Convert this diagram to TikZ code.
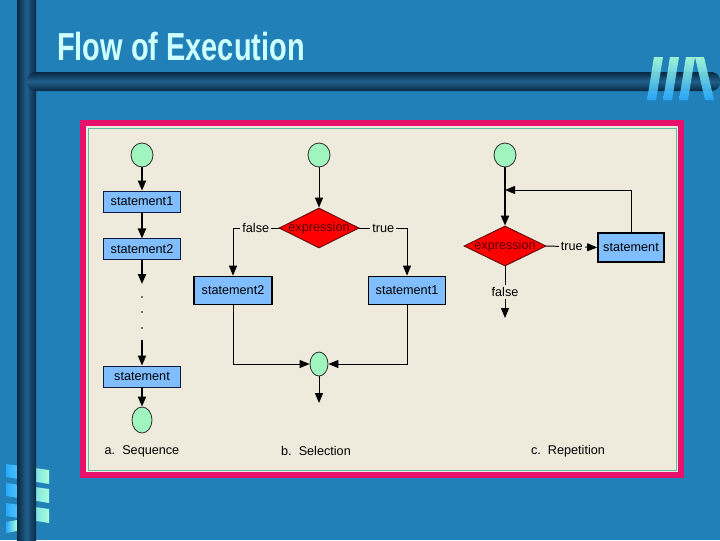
\documentclass[tikz,border=0pt]{standalone}
\usepackage{fontspec}
\setmainfont{Liberation Sans}
\usetikzlibrary{positioning,arrows.meta,shapes.geometric}
\definecolor{slideblue}{RGB}{34,128,184}
\definecolor{bardark}{RGB}{8,40,66}
\definecolor{barmid}{RGB}{32,96,140}
\definecolor{framepink}{RGB}{232,18,108}
\definecolor{paper}{RGB}{238,235,220}
\definecolor{rimgreen}{RGB}{100,185,165}
\definecolor{boxblue}{RGB}{128,190,255}
\definecolor{boxline}{RGB}{12,28,70}
\definecolor{mint}{RGB}{160,245,190}
\definecolor{darkred}{RGB}{85,0,0}
\definecolor{titlecyan}{RGB}{205,255,255}
\definecolor{logocyan}{RGB}{40,170,255}
\definecolor{logomint}{RGB}{170,255,215}

\begin{document}
\begin{tikzpicture}[x=0.025cm, y=0.025cm,
		stmt/.style={draw=boxline, fill=boxblue, line width=0.6pt, minimum width=1.925cm, minimum height=0.525cm, inner sep=1pt, font=\fontsize{9}{10}\selectfont},
		stmtbold/.style={stmt, draw=black, line width=1.2pt},
		terminal/.style={ellipse, draw=black!80, fill=mint, line width=0.6pt, inner sep=0pt, minimum width=0.55cm, minimum height=0.6cm},
		decision/.style={diamond, draw=darkred, fill=red, line width=0.6pt, inner sep=0pt, text=darkred, font=\fontsize{9}{10}\selectfont},
		lbl/.style={fill=paper, inner sep=1.5pt, font=\fontsize{9}{10}\selectfont},
		caption/.style={font=\fontsize{9}{10}\selectfont},
		flow/.style={-{Triangle[length=2.5mm, width=2mm]}, line width=1.4pt},
		thinflow/.style={-{Triangle[length=2.5mm, width=2mm]}, line width=0.7pt}
	]
	\useasboundingbox (0,0) rectangle (720,-540);

	% Slide background
	\fill[slideblue] (0,0) rectangle (720,-540);
	\foreach \y in {464,483,503} {
		\shade[left color=logocyan, right color=logomint]
			(6,-\y) -- (49,-\y-6) -- (49,-\y-20) -- (6,-\y-13) -- cycle;
	}
	\shade[left color=logocyan, right color=logomint] (6,-522) -- (17,-520) -- (17,-531) -- (6,-533) -- cycle;
	\shade[left color=bardark, right color=bardark, middle color=barmid] (17,0) rectangle (36,-540);
	\shade[top color=bardark, bottom color=bardark, middle color=barmid, rounded corners=6pt] (27,-72) rectangle (720,-91);
	\foreach \x in {647,663,679} {
		\shade[bottom color=logocyan, top color=logomint, opacity=0.9]
			(\x,-100) -- (\x+9,-100) -- (\x+16,-57) -- (\x+7,-57) -- cycle;
	}
	\shade[bottom color=logocyan, top color=logomint, opacity=0.9] (695,-57) -- (704,-57) -- (714,-100) -- (705,-100) -- cycle;
	\node[anchor=base west, text=titlecyan, font=\bfseries\fontsize{27.8}{30}\selectfont, xscale=0.74, inner sep=0pt] (title) at (57,-60) {Flow of Execution};

	% Frame
	\fill[framepink] (80,-120) rectangle (684,-478);
	\fill[paper] (86,-126) rectangle (678,-472);
	\draw[rimgreen, line width=0.5pt] (88,-128) rectangle (676,-470);

	% a. Sequence
	\node[terminal] (seqstart) at (142,-155) {};
	\node[stmt, below=0.58cm of seqstart] (seqfirst) {statement1};
	\node[stmt, below=0.65cm of seqfirst] (seqsecond) {statement2};
	\coordinate (seqgap) at (142,-284);
	\foreach \y in {297,312,328} \fill (142,-\y) circle (0.6pt);
	\coordinate (seqresume) at (142,-340);
	\node[stmt] (seqlast) at (142,-376.5) {statement};
	\node[terminal, minimum width=0.5cm, minimum height=0.65cm] (seqend) at (142,-420) {};
	\draw[flow] (seqstart) -- (seqfirst);
	\draw[flow] (seqfirst) -- (seqsecond);
	\draw[flow] (seqsecond) -- (seqgap);
	\draw[flow] (seqresume) -- (seqlast);
	\draw[flow] (seqlast) -- (seqend);
	\node[caption] (seqcap) at (142,-451) {a.\ \ Sequence};

	% b. Selection
	\node[terminal] (selstart) at (319,-155) {};
	\node[decision, minimum width=2cm, minimum height=1cm] (selq) at (319,-228) {\makebox[0pt]{expression}};
	\node[stmtbold, minimum width=1.95cm, minimum height=0.7cm] (selfalse) at (233,-290.5) {statement2};
	\node[stmtbold, minimum width=1.925cm, minimum height=0.7cm] (seltrue) at (407,-290.5) {statement1};
	\node[terminal, minimum width=0.45cm] (seljoin) at (319,-364) {};
	\coordinate (selout) at (319,-403);
	\draw[thinflow] (selstart) -- (selq);
	\draw[thinflow] (selq.west) -- node[lbl] {false} (selq.west -| selfalse.north) -- (selfalse.north);
	\draw[thinflow] (selq.east) -- node[lbl] {true} (selq.east -| seltrue.north) -- (seltrue.north);
	\draw[thinflow] (selfalse.south) |- (seljoin.west);
	\draw[thinflow] (seltrue.south) |- (seljoin.east);
	\draw[thinflow] (seljoin) -- (selout);
	\node[caption] (selcap) at (316,-451) {b.\ \ Selection};

	% c. Repetition
	\node[terminal] (repstart) at (505,-155) {};
	\node[decision, minimum width=2.05cm, minimum height=1cm] (repq) at (505,-246) {\makebox[0pt]{expression}};
	\node[stmtbold, minimum width=1.65cm, minimum height=0.725cm] (repbody) at (631,-247.5) {statement};
	\coordinate (repin) at (505,-190);
	\coordinate (repout) at (505,-318);
	\draw[flow] (repstart) -- (repq);
	\draw[thinflow] (repbody.north) |- (repin);
	\draw[thinflow] (repq.east) -- node[lbl] {true} (repbody.west);
	\draw[thinflow] (repq.south) -- node[lbl] {false} (repout);
	\node[caption] (repcap) at (568,-451) {c.\ \ Repetition};
\end{tikzpicture}
\end{document}
